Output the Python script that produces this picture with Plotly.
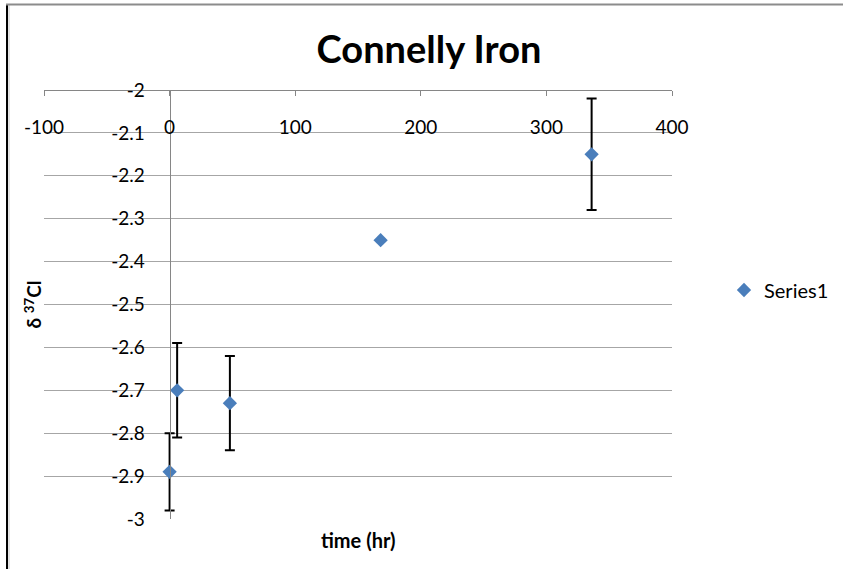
import plotly.graph_objects as go

# data
time_hr = [0, 6, 48, 168, 336]
d37cl = [-2.89, -2.70, -2.73, -2.35, -2.15]
err = [0.09, 0.11, 0.11, None, 0.13]

x_ticks = [-100, 0, 100, 200, 300, 400]
x_ticktext = ["-100", "0", "100", "200", "300", "400"]
y_ticks = [-2, -2.1, -2.2, -2.3, -2.4, -2.5, -2.6, -2.7, -2.8, -2.9, -3]
y_ticktext = ["-2", "-2.1", "-2.2", "-2.3", "-2.4", "-2.5", "-2.6", "-2.7", "-2.8", "-2.9", "-3"]

CONFIG = {"displayModeBar": False}

W, H = 843, 569
L, R, T, B = 44, 171, 90, 50
FONT = "Lato"
GRID = "#a6a6a6"
AXIS = "#868686"
BLUE = "#4a7ebb"

pw, ph = W - L - R, H - T - B


def px_x(p):
    return (p - L) / pw


def px_y(p):
    return (H - B - p) / ph


fig = go.Figure()
fig.add_trace(go.Scatter(
    x=time_hr, y=d37cl, mode="markers", name="Series1",
    marker=dict(symbol="diamond", size=11, color=BLUE),
    error_y=dict(type="data", array=err, visible=True, color="black",
                 thickness=2, width=5),
))

# x axis sits on the top edge (y = -2) with its labels hanging below it
fig.update_xaxes(
    range=[-100, 400], side="bottom", anchor="free", position=1,
    tickvals=x_ticks, ticktext=x_ticktext,
    ticks="outside", ticklen=5, tickcolor=AXIS, ticklabelstandoff=15,
    showline=True, linecolor=AXIS, linewidth=1,
    showgrid=False, zeroline=False,
    tickfont=dict(family=FONT, size=19, color="black"),
)
# y axis crosses at x = 0
fig.update_yaxes(
    range=[-3, -2], anchor="free", position=0.2,
    tickvals=y_ticks, ticktext=y_ticktext,
    ticks="", ticklabelstandoff=21,
    showline=True, linecolor=AXIS, linewidth=1,
    showgrid=True, gridcolor=GRID, gridwidth=1, zeroline=False,
    tickfont=dict(family=FONT, size=19, color="black"),
)

fig.add_annotation(
    text="time (hr)", xref="paper", yref="paper", x=0.5, y=px_y(540),
    xanchor="center", yanchor="middle", showarrow=False,
    font=dict(family=FONT, size=20, color="black", weight="bold"),
)
fig.add_annotation(
    text="δ <sup>37</sup>Cl", xref="paper", yref="paper", x=px_x(33), y=0.5,
    xanchor="center", yanchor="middle", textangle=-90, showarrow=False,
    font=dict(family=FONT, size=19, color="black", weight="bold"),
)

# chart border as in the spreadsheet export
fig.add_shape(type="line", xref="paper", yref="paper",
              x0=px_x(7), x1=px_x(7), y0=px_y(4), y1=px_y(H),
              line=dict(color="black", width=2))
fig.add_shape(type="line", xref="paper", yref="paper",
              x0=px_x(9), x1=px_x(9), y0=px_y(5), y1=px_y(H),
              line=dict(color="#c8c8c8", width=1))
fig.add_shape(type="line", xref="paper", yref="paper",
              x0=px_x(6), x1=px_x(W), y0=px_y(4.5), y1=px_y(4.5),
              line=dict(color="#8c8c8c", width=2))

fig.update_layout(
    width=W, height=H,
    margin=dict(l=L, r=R, t=T, b=B, autoexpand=False),
    title=dict(text="<b>Connelly Iron</b>", x=429 / W,
               xanchor="center", y=1 - 50 / H, yanchor="middle",
               font=dict(family=FONT, size=38, color="black")),
    showlegend=True,
    legend=dict(x=px_x(724), y=px_y(290), xanchor="left", yanchor="middle",
                font=dict(family=FONT, size=20, color="black"),
                bgcolor="rgba(0,0,0,0)"),
    plot_bgcolor="white", paper_bgcolor="white",
)

fig.write_html("out.html", config=CONFIG,
               post_script="document.body.style.margin='0';")
